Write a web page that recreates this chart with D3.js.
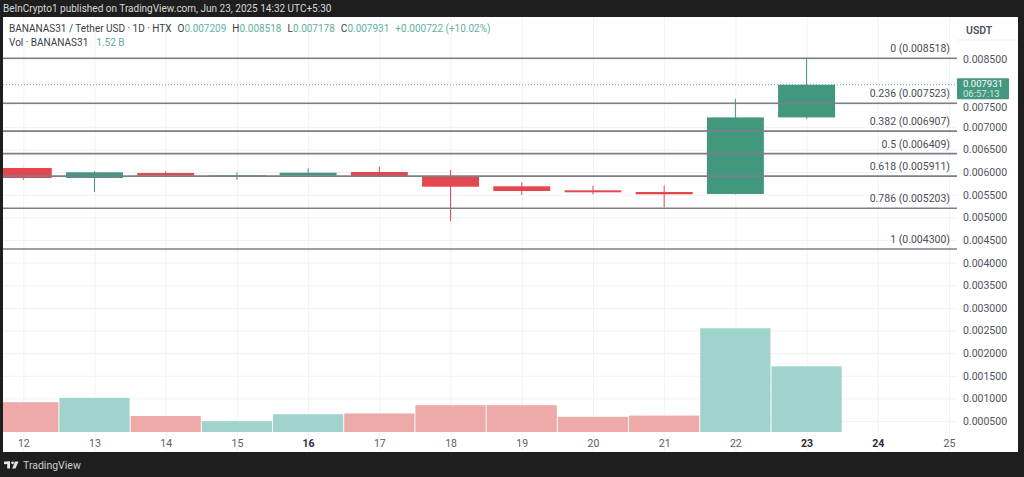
<!DOCTYPE html>
<html>
<head>
<meta charset="utf-8">
<script src="https://cdn.jsdelivr.net/npm/d3@7"></script>
<style>
  body { margin: 0; background: #1e1e1e; }
  svg { display: block; }
  text { font-family: Roboto, "Liberation Sans", sans-serif; }
</style>
</head>
<body>
<svg id="chart" width="1024" height="477"></svg>
<script>
// Daily candles, June 12 – 23
const days   = [12, 13, 14, 15, 16, 17, 18, 19, 20, 21, 22, 23];
const opens  = [0.006091, 0.005870, 0.005981, 0.005908, 0.005921, 0.006003, 0.005914, 0.005687, 0.005598, 0.005561, 0.005517, 0.007209];
const highs  = [0.006095, 0.006025, 0.006018, 0.005996, 0.006085, 0.006120, 0.006047, 0.005775, 0.005693, 0.005700, 0.007623, 0.008518];
const lows   = [0.005830, 0.005567, 0.005915, 0.005826, 0.005920, 0.005895, 0.004920, 0.005494, 0.005510, 0.005223, 0.005510, 0.007178];
const closes = [0.005870, 0.005996, 0.005921, 0.005930, 0.005987, 0.005899, 0.005678, 0.005583, 0.005554, 0.005510, 0.007209, 0.007931];
// Volume in billions of BANANAS31
const volumes = [0.69, 0.79, 0.37, 0.25, 0.41, 0.43, 0.62, 0.62, 0.35, 0.38, 2.40, 1.52];

const axisDays = [12, 13, 14, 15, 16, 17, 18, 19, 20, 21, 22, 23, 24, 25];
const boldDays = [16, 23, 24];
const gridPrices = [0.0085, 0.008, 0.0075, 0.007, 0.0065, 0.006, 0.0055, 0.005, 0.0045, 0.004, 0.0035, 0.003, 0.0025, 0.002, 0.0015, 0.001, 0.0005];
const priceTicks = [0.0085, 0.0075, 0.007, 0.0065, 0.006, 0.0055, 0.005, 0.0045, 0.004, 0.0035, 0.003, 0.0025, 0.002, 0.0015, 0.001, 0.0005];

// Fibonacci retracement levels
const fibRatios = ["0", "0.236", "0.382", "0.5", "0.618", "0.786", "1"];
const fibPrices = [0.008518, 0.007523, 0.006907, 0.006409, 0.005911, 0.005203, 0.004300];

const lastPrice = 0.007931;
const countdown = "06:57:13";

const UP = "#42977f", DOWN = "#e5474f";
const UP_VOL = "#9fd3cb", DOWN_VOL = "#eeaaa8";
const FONT = "Roboto, 'Liberation Sans', sans-serif";

const svg = d3.select("#chart");

// panel
const P = { left: 3, top: 17, right: 1018, bottom: 452, plotRight: 957 };
svg.append("rect").attr("x", P.left).attr("y", P.top)
  .attr("width", P.right - P.left).attr("height", P.bottom - P.top).attr("fill", "#ffffff");

const x = d3.scaleLinear().domain([12, 25]).range([23.3, 949]);
const step = x(13) - x(12);
const y = d3.scaleLinear().domain([0.0005, 0.0085]).range([421, 59]);
const yVol = d3.scaleLinear().domain([0, 2.4]).range([432, 328.3]);

svg.append("defs").append("clipPath").attr("id", "plot")
  .append("rect").attr("x", P.left).attr("y", P.top)
  .attr("width", P.plotRight - P.left).attr("height", P.bottom - P.top);

// grid
const grid = svg.append("g").attr("clip-path", "url(#plot)");
grid.append("g").attr("transform", `translate(0,${P.bottom})`)
  .call(d3.axisBottom(x).tickValues(axisDays).tickSize(-(P.bottom - P.top)).tickFormat(""))
  .call(g => g.select(".domain").remove())
  .call(g => g.selectAll("line").attr("stroke", "#f1f2f4"));
grid.append("g").attr("transform", `translate(${P.left},0)`)
  .call(d3.axisRight(y).tickValues(gridPrices).tickSize(P.plotRight - P.left).tickFormat(""))
  .call(g => g.select(".domain").remove())
  .call(g => g.selectAll("line").attr("stroke", "#f1f2f4"));

const plot = svg.append("g").attr("clip-path", "url(#plot)");

// volume histogram
plot.selectAll("rect.vol").data(days).join("rect")
  .attr("class", "vol")
  .attr("x", (d) => x(d) - step / 2 + 0.5)
  .attr("width", step - 1)
  .attr("y", (d, i) => yVol(volumes[i]))
  .attr("height", (d, i) => yVol(0) - yVol(volumes[i]))
  .attr("fill", (d, i) => closes[i] >= opens[i] ? UP_VOL : DOWN_VOL);

// fib levels
const fib = svg.append("g");
fib.selectAll("line").data(fibPrices).join("line")
  .attr("x1", P.left).attr("x2", P.plotRight)
  .attr("y1", d => y(d)).attr("y2", d => y(d))
  .attr("stroke", "#7c7f86").attr("stroke-width", 1.6);
fib.selectAll("text").data(fibPrices).join("text")
  .attr("x", 950).attr("y", d => y(d) - 6)
  .attr("text-anchor", "end").attr("font-size", 10.5).attr("fill", "#4a4d55")
  .text((d, i) => `${fibRatios[i]} (${d.toFixed(6)})`);

// last price dotted line
svg.append("line")
  .attr("x1", P.left).attr("x2", P.plotRight)
  .attr("y1", y(lastPrice)).attr("y2", y(lastPrice))
  .attr("stroke", UP).attr("stroke-width", 1).attr("stroke-dasharray", "1 2").attr("opacity", 0.8);

// candles
const bw = step * 0.8;
plot.selectAll("line.wick").data(days).join("line")
  .attr("class", "wick")
  .attr("x1", d => x(d)).attr("x2", d => x(d))
  .attr("y1", (d, i) => y(highs[i])).attr("y2", (d, i) => y(lows[i]))
  .attr("stroke", (d, i) => closes[i] >= opens[i] ? UP : DOWN).attr("stroke-width", 1);
plot.selectAll("rect.body").data(days).join("rect")
  .attr("class", "body")
  .attr("x", d => x(d) - bw / 2).attr("width", bw)
  .attr("y", (d, i) => y(Math.max(opens[i], closes[i])))
  .attr("height", (d, i) => Math.max(1.5, Math.abs(y(opens[i]) - y(closes[i]))))
  .attr("fill", (d, i) => closes[i] >= opens[i] ? UP : DOWN);

// price axis
svg.append("g").attr("transform", `translate(957,0)`)
  .call(d3.axisRight(y).tickValues(priceTicks).tickSize(0).tickPadding(6).tickFormat(d3.format(".6f")))
  .call(g => g.select(".domain").remove())
  .call(g => g.selectAll("text").attr("font-size", 10.5).attr("fill", "#50535b")
    .attr("font-family", FONT)
    .attr("dy", d => d === 0.0075 ? "0.55em" : "0.32em"));

// axis unit label
svg.append("line").attr("x1", 957).attr("x2", P.right).attr("y1", 40).attr("y2", 40).attr("stroke", "#eeeeee");
svg.append("text").attr("x", 966).attr("y", 34).attr("font-size", 10.5)
  .attr("font-weight", 600).attr("fill", "#50535b").text("USDT");

// last price label
const lp = svg.append("g").attr("transform", `translate(957,${y(lastPrice) - 6.5})`);
lp.append("rect").attr("width", 52).attr("height", 21).attr("rx", 1).attr("fill", "#45977f");
lp.append("text").attr("x", 6).attr("y", 9).attr("font-size", 9.5).attr("fill", "#ffffff").text(lastPrice.toFixed(6));
lp.append("text").attr("x", 6).attr("y", 19).attr("font-size", 9.5).attr("fill", "#cfe8e1").text(countdown);

// time axis
svg.append("g").attr("transform", `translate(0,436)`)
  .call(d3.axisBottom(x).tickValues(axisDays).tickSize(0).tickPadding(4))
  .call(g => g.select(".domain").remove())
  .call(g => g.selectAll("text").attr("font-size", 10.5)
    .attr("font-family", FONT)
    .attr("fill", d => boldDays.includes(d) ? "#2a2e39" : "#5a5d65")
    .attr("font-weight", d => boldDays.includes(d) ? 700 : 400));

// legend
const teal = "#5fb0a0";
const leg = svg.append("text").attr("x", 9).attr("y", 32).attr("font-size", 10).attr("fill", "#3a3d45");
leg.append("tspan").text("BANANAS31 / Tether USD · 1D · HTX");
[["O", opens[11]], ["H", highs[11]], ["L", lows[11]], ["C", closes[11]]].forEach(([k, v]) => {
  leg.append("tspan").attr("dx", 6).text(k);
  leg.append("tspan").attr("fill", teal).text(v.toFixed(6));
});
const chg = closes[11] - closes[10];
leg.append("tspan").attr("dx", 6).attr("fill", teal)
  .text(`+${chg.toFixed(6)} (+${(chg / closes[10] * 100).toFixed(2)}%)`);

const vleg = svg.append("text").attr("x", 9).attr("y", 46).attr("font-size", 10).attr("fill", "#3a3d45");
vleg.append("tspan").text("Vol · BANANAS31");
vleg.append("tspan").attr("dx", 8).attr("fill", teal).text(`${volumes[11].toFixed(2)} B`);

// publisher band
svg.append("text").attr("x", 3).attr("y", 12).attr("font-size", 10).attr("fill", "#d8d8d8")
  .text("BeInCrypto1 published on TradingView.com, Jun 23, 2025 14:32 UTC+5:30");

// footer logo mark and wordmark
const ft = svg.append("g").attr("transform", "translate(4,465)").attr("fill", "#e6e6e6");
ft.append("rect").attr("x", 0).attr("y", -3.5).attr("width", 6).attr("height", 2.6);
ft.append("rect").attr("x", 3.2).attr("y", -3.5).attr("width", 2.8).attr("height", 7);
ft.append("circle").attr("cx", 8.6).attr("cy", -2.2).attr("r", 1.4);
ft.append("polygon").attr("points", "11,-3.5 14.5,-3.5 11.5,3.5 8.2,3.5");
ft.append("text").attr("x", 19).attr("y", 4).attr("font-size", 10.5).attr("fill", "#cfcfcf").text("TradingView");
</script>
</body>
</html>
